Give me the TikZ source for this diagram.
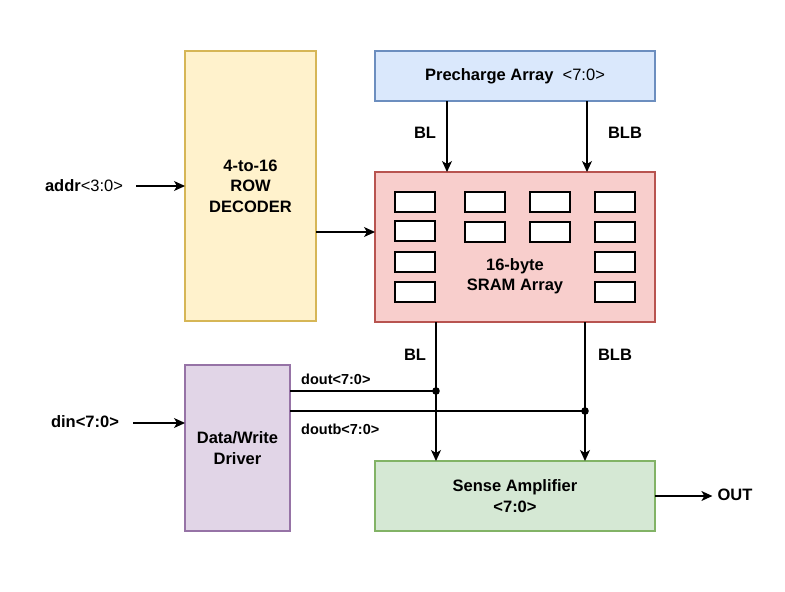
\documentclass[tikz,border=0pt]{standalone}
\usepackage{fontspec}
\setmainfont{Liberation Sans}
\usetikzlibrary{arrows.meta,positioning,calc}

\definecolor{decFill}{HTML}{FFF2CC}
\definecolor{decLine}{HTML}{D6B656}
\definecolor{preFill}{HTML}{DAE8FC}
\definecolor{preLine}{HTML}{6C8EBF}
\definecolor{sramFill}{HTML}{F8CECC}
\definecolor{sramLine}{HTML}{B85450}
\definecolor{drvFill}{HTML}{E1D5E7}
\definecolor{drvLine}{HTML}{9673A6}
\definecolor{saFill}{HTML}{D5E8D4}
\definecolor{saLine}{HTML}{82B366}

\begin{document}
\begin{tikzpicture}[
			x=1pt, y=-1pt,
			every node/.style={align=center, font=\fontsize{16.5}{20.5}\selectfont\bfseries},
			block/.style={draw, line width=2pt, inner sep=0pt, outer sep=0pt},
			cell/.style={draw, fill=white, line width=1.6pt, minimum width=40pt, minimum height=20pt, inner sep=0pt},
			label/.style={inner sep=1pt},
			sig/.style={line width=1.2pt, -{Stealth[length=11pt, width=10pt, inset=3pt]}},  % signal arrows
			wire/.style={line width=1.2pt}
		]
		\useasboundingbox (0,0) rectangle (785,592);

		% Blocks
		\node[block, fill=decFill, draw=decLine, minimum width=131pt, minimum height=270pt] (dec) at (250.5,186) {4-to-16\\ROW\\DECODER};
		\node[block, fill=preFill, draw=preLine, minimum width=280pt, minimum height=50pt] (pre) at (515,76) {Precharge Array\ \ {\mdseries\textless7:0\textgreater}};
		\node[block, fill=sramFill, draw=sramLine, minimum width=280pt, minimum height=150pt] (sram) at (515,247) {};
		\node[block, fill=drvFill, draw=drvLine, minimum width=105pt, minimum height=166pt] (drv) at (237.5,448) {Data/Write\\Driver};
		\node[block, fill=saFill, draw=saLine, minimum width=280pt, minimum height=70pt] (sa) at (515,496) {Sense Amplifier\\\textless7:0\textgreater};

		% SRAM cells
		\node[cell] (C11) at (415,202) {};
		\node[cell] (C12) at (485,202) {};
		\node[cell] (C13) at (550,202) {};
		\node[cell] (C14) at (615,202) {};
		\node[cell] (C21) at (415,231) {};
		\node[cell] (C22) at (485,232) {};
		\node[cell] (C23) at (550,232) {};
		\node[cell] (C24) at (615,232) {};
		\node[cell] (C31) at (415,262) {};
		\node[cell] (C34) at (615,262) {};
		\node[cell] (C41) at (415,292) {};
		\node[cell] (C44) at (615,292) {};
		\node (sramtxt) at (515,276) {16-byte\\SRAM Array};

		% Inputs and output
		\node[label] (addr) at (84,186) {addr{\mdseries\textless3:0\textgreater}};
		\node[label] (din) at (85,422) {din\textless7:0\textgreater};
		\node[label] (out) at (735,495) {OUT};

		% Bit line labels
		\node[label] (blTop) at (425,133) {BL};
		\node[label] (blbTop) at (625,133) {BLB};
		\node[label] (blBot) at (415,355) {BL};
		\node[label] (blbBot) at (615,355) {BLB};
		\node[label, anchor=west] (doutLbl) at (300,379) {\fontsize{14.5}{16}\selectfont dout\textless7:0\textgreater};
		\node[label, anchor=west] (doutbLbl) at (300,429) {\fontsize{14.5}{16}\selectfont doutb\textless7:0\textgreater};

		% Junctions
		\coordinate (xBLt) at (447,0);
		\coordinate (xBLBt) at (587,0);
		\coordinate (wl) at (345,232);
		\coordinate (jBL) at (436,391);
		\coordinate (jBLB) at (585,411);

		% Connections
		\draw[sig] (pre.south -| xBLt) -- (sram.north -| xBLt);
		\draw[sig] (pre.south -| xBLBt) -- (sram.north -| xBLBt);
		\draw[sig] (dec.east |- wl) -- (sram.west |- wl);
		\draw[sig] ($(addr.east)+(12,0)$) -- (dec.west |- addr);
		\draw[sig] ($(din.east)+(13,1)$) -- (drv.west |- 0,423);
		\draw[sig] (sram.south -| jBL) -- (sa.north -| jBL);
		\draw[sig] (sram.south -| jBLB) -- (sa.north -| jBLB);
		\draw[wire] (drv.east |- jBL) -- (jBL);
		\draw[wire] (drv.east |- jBLB) -- (jBLB);
		\fill (jBL) circle (3.8);
		\fill (jBLB) circle (3.8);
		\draw[sig, shorten >=4pt] (sa.east) -- (out.west |- sa.east);
	\end{tikzpicture}
\end{document}
